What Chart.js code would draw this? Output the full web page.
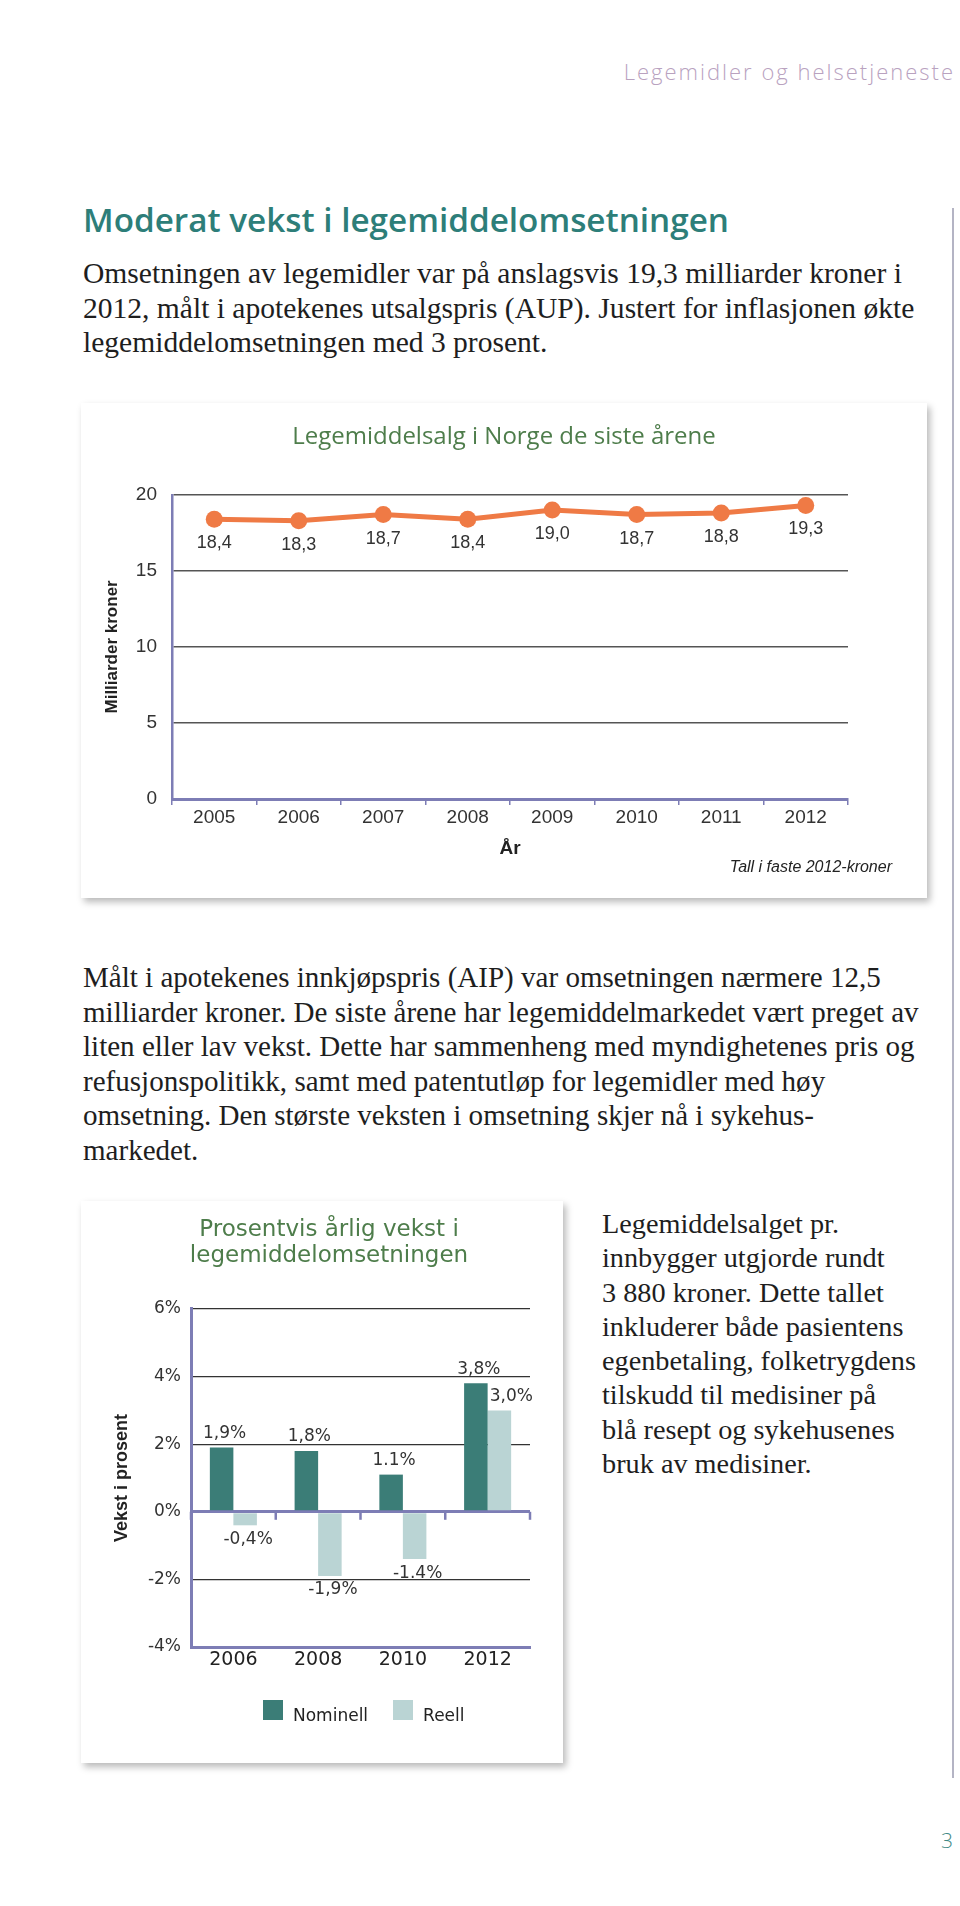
<!DOCTYPE html>
<html>
<head>
<meta charset="utf-8">
<script src="https://cdn.jsdelivr.net/npm/chart.js@4.4.0/dist/chart.umd.min.js"></script>
<style>
  body { margin: 0; width: 960px; height: 1906px; background: #fff; position: relative; overflow: hidden; }
  .abs { position: absolute; }
  .header { right: 5px; top: 60px; font-family: "Open Sans"; font-weight: 300; font-size: 22px; line-height: 22px; letter-spacing: 2px; color: #b9a2bf; white-space: nowrap; }
  .title { left: 83px; top: 204px; font-family: "Open Sans"; font-weight: 600; font-size: 31px; line-height: 31px; color: #2d7e79; white-space: nowrap; }
  .body { font-family: "Liberation Serif"; font-size: 27px; line-height: 34.5px; color: #1e1e1e; white-space: nowrap; }
  .box { background: #fff; box-shadow: 3px 4px 7px rgba(0,0,0,0.28); }
  .note { right: 68px; top: 858px; font-family: "Liberation Sans"; font-style: italic; font-size: 16px; line-height: 18px; color: #222; }
  .vline { left: 952px; top: 208px; width: 2px; height: 1570px; background: #b4b4c4; }
  .pnum { left: 941px; top: 1828px; font-family: "Open Sans"; font-weight: 300; font-size: 21px; line-height: 24px; color: #3f8a86; }
  .legend { left: 263px; top: 1700px; display: flex; gap: 25px; font-family: "DejaVu Sans"; font-size: 17px; color: #222; }
  .legend .item { display: flex; align-items: flex-start; }
  .legend .sw { width: 20px; height: 20px; margin-right: 10px; }
  .legend .txt { position: relative; top: 5px; }
</style>
</head>
<body>

<div class="abs header">Legemidler og helsetjeneste</div>
<div class="abs title" id="title"><span>Moderat vekst i legemiddelomsetningen</span></div>

<div class="abs body" id="para1" style="left:83px; top:256px;">
  <span class="ref">Omsetningen av legemidler var på anslagsvis 19,3 milliarder kroner i</span><br>
  2012, målt i apotekenes utsalgspris (AUP). Justert for inflasjonen økte<br>
  legemiddelomsetningen med 3 prosent.
</div>

<div class="abs box" style="left:81px; top:403px; width:846px; height:495px;">
  <canvas id="salesChart" width="846" height="495"></canvas>
</div>
<div class="abs note">Tall i faste 2012-kroner</div>

<div class="abs body" id="para2" style="left:83px; top:960px;">
  Målt i apotekenes innkjøpspris (AIP) var omsetningen nærmere 12,5<br>
  milliarder kroner. De siste årene har legemiddelmarkedet vært preget av<br>
  <span class="ref">liten eller lav vekst. Dette har sammenheng med myndighetenes pris og</span><br>
  refusjonspolitikk, samt med patentutløp for legemidler med høy<br>
  omsetning. Den største veksten i omsetning skjer nå i sykehus-<br>
  markedet.
</div>

<div class="abs box" style="left:81px; top:1201px; width:482px; height:562px;">
  <canvas id="growthChart" width="482" height="562"></canvas>
</div>
<div class="abs legend" id="legend"></div>

<div class="abs body" id="para3" style="left:602px; top:1207px; line-height:34.3px;">
  Legemiddelsalget pr.<br>
  innbygger utgjorde rundt<br>
  3 880 kroner. Dette tallet<br>
  inkluderer både pasientens<br>
  <span class="ref">egenbetaling, folketrygdens</span><br>
  tilskudd til medisiner på<br>
  blå resept og sykehusenes<br>
  bruk av medisiner.
</div>

<div class="abs vline"></div>
<div class="abs pnum">3</div>

<script>
// chart 1: sales per year
var years = ['2005', '2006', '2007', '2008', '2009', '2010', '2011', '2012'];
var sales = [18.4, 18.3, 18.7, 18.4, 19.0, 18.7, 18.8, 19.3];
var salesLabels = ['18,4', '18,3', '18,7', '18,4', '19,0', '18,7', '18,8', '19,3'];
var salesTicks = [0, 5, 10, 15, 20];

// chart 2: yearly growth
var growthYears = ['2006', '2008', '2010', '2012'];
var nominal = [1.9, 1.8, 1.1, 3.8];
var real = [-0.4, -1.9, -1.4, 3.0];
var nominalLabels = ['1,9%', '1,8%', '1.1%', '3,8%'];
var realLabels = ['-0,4%', '-1,9%', '-1.4%', '3,0%'];
var growthTicks = [-4, -2, 0, 2, 4, 6];

var PURPLE = '#7d7db5';

function fitWidth(el, target) {
  var ref = el.querySelector('.ref') || el.querySelector('span');
  var w = ref.getBoundingClientRect().width;
  var fs = parseFloat(getComputedStyle(el).fontSize);
  el.style.fontSize = (fs * target / w).toFixed(2) + 'px';
}
fitWidth(document.getElementById('title'), 646);
fitWidth(document.getElementById('para1'), 819);
fitWidth(document.getElementById('para2'), 832);
fitWidth(document.getElementById('para3'), 314);

var pointLabels = {
  id: 'pointLabels',
  afterDatasetsDraw: function(chart) {
    var ctx = chart.ctx;
    var meta = chart.getDatasetMeta(0);
    ctx.save();
    ctx.font = '18px "Liberation Sans"';
    ctx.fillStyle = '#333';
    ctx.textAlign = 'center';
    ctx.textBaseline = 'middle';
    meta.data.forEach(function(pt, i) {
      ctx.fillText(salesLabels[i], pt.x, pt.y + 24);
    });
    ctx.restore();
  }
};

new Chart(document.getElementById('salesChart'), {
  type: 'line',
  data: {
    labels: years,
    datasets: [{
      label: 'Milliarder kroner',
      data: sales,
      borderColor: '#ef7a45',
      backgroundColor: '#ef7a45',
      borderWidth: 5,
      pointRadius: 8.5,
      pointBackgroundColor: '#ef7a45',
      pointBorderWidth: 0,
      tension: 0,
      clip: false
    }]
  },
  options: {
    responsive: false,
    animation: false,
    layout: { padding: { left: 0, right: 0, top: 0, bottom: 19 } },
    plugins: {
      legend: { display: false },
      tooltip: { enabled: false },
      title: {
        display: true,
        text: 'Legemiddelsalg i Norge de siste årene',
        color: '#4e7d4b',
        font: { family: 'Open Sans', size: 24, weight: 'normal' },
        padding: { top: 20, bottom: 43 }
      }
    },
    scales: {
      x: {
        offset: true,
        grid: { offset: true, drawOnChartArea: false, tickLength: 6, color: PURPLE, lineWidth: 1.5 },
        border: { color: PURPLE, width: 3 },
        ticks: { color: '#333', padding: 1, font: { family: 'Liberation Sans', size: 19 } },
        title: {
          display: true, text: 'År', color: '#222',
          font: { family: 'Liberation Sans', size: 19, weight: 'bold' },
          padding: { top: 0, bottom: 19 }
        },
        afterFit: function(s) { s.height = 80; }
      },
      y: {
        min: 0, max: 20,
        afterBuildTicks: function(s) { s.ticks = salesTicks.map(function(v) { return { value: v }; }); },
        grid: { color: '#555', lineWidth: 1.5, drawTicks: false },
        border: { color: PURPLE, width: 2.5 },
        ticks: { color: '#333', padding: 15, font: { family: 'Liberation Sans', size: 19 } },
        title: {
          display: true, text: 'Milliarder kroner', color: '#222',
          font: { family: 'Liberation Sans', size: 17, weight: 'bold' },
          padding: { top: 21, bottom: 0 }
        },
        afterFit: function(s) { s.width = 91; }
      },
      pad: {
        type: 'linear', position: 'right', display: true,
        grid: { display: false }, border: { display: false }, ticks: { display: false },
        afterFit: function(s) { s.width = 79; }
      }
    }
  },
  plugins: [pointLabels]
});

var barLabels = {
  id: 'barLabels',
  afterDatasetsDraw: function(chart) {
    var ctx = chart.ctx;
    ctx.save();
    ctx.font = '17px "DejaVu Sans"';
    ctx.fillStyle = '#333';
    ctx.textAlign = 'center';
    ctx.textBaseline = 'middle';
    [nominalLabels, realLabels].forEach(function(texts, d) {
      var ds = chart.data.datasets[d];
      chart.getDatasetMeta(d).data.forEach(function(bar, i) {
        var up = ds.data[i] >= 0;
        // positive real label sits beside the taller nominal label
        var dx = (d === 1 && up) ? 12 : 3;
        ctx.fillText(texts[i], bar.x + dx, bar.y + (up ? -14 : 14));
      });
    });
    ctx.restore();
  }
};

var zeroTicks = {
  id: 'zeroTicks',
  afterDraw: function(chart) {
    var x = chart.scales.x, y = chart.scales.y;
    var y0 = y.getPixelForValue(0);
    var ctx = chart.ctx;
    ctx.save();
    ctx.strokeStyle = PURPLE;
    ctx.lineWidth = 2.5;
    for (var i = 0; i <= growthYears.length; i++) {
      var px = x.getPixelForValue(i - 0.5);
      ctx.beginPath();
      ctx.moveTo(px, y0);
      ctx.lineTo(px, y0 + 8);
      ctx.stroke();
    }
    ctx.restore();
  }
};

var growth = new Chart(document.getElementById('growthChart'), {
  type: 'bar',
  data: {
    labels: growthYears,
    datasets: [
      { label: 'Nominell', data: nominal, backgroundColor: '#3b7d77' },
      { label: 'Reell', data: real, backgroundColor: '#bad4d4' }
    ]
  },
  options: {
    responsive: false,
    animation: false,
    layout: { padding: { left: 14, right: 0, top: 0, bottom: 76 } },
    datasets: { bar: { barPercentage: 1, categoryPercentage: 0.555 } },
    plugins: {
      legend: { display: false },
      tooltip: { enabled: false },
      title: {
        display: true,
        text: ['Prosentvis årlig vekst i', 'legemiddelomsetningen'],
        color: '#4e7d4b',
        font: { family: 'DejaVu Sans', size: 23, weight: 'normal', lineHeight: 1.13 },
        padding: { top: 16, bottom: 40 }
      }
    },
    scales: {
      x: {
        grid: { display: false, drawTicks: false },
        border: { color: PURPLE, width: 3 },
        ticks: { color: '#222', padding: 2, font: { family: 'DejaVu Sans', size: 19 } },
        afterFit: function(s) { s.height = 40; }
      },
      y: {
        min: -4, max: 6,
        afterBuildTicks: function(s) { s.ticks = growthTicks.map(function(v) { return { value: v }; }); },
        grid: {
          drawTicks: false,
          color: function(c) { return c.tick.value === 0 || c.tick.value === -4 ? PURPLE : '#333'; },
          lineWidth: function(c) { return c.tick.value === 0 || c.tick.value === -4 ? 3 : 1.2; }
        },
        border: { color: PURPLE, width: 3 },
        ticks: {
          color: '#333', padding: 10, font: { family: 'DejaVu Sans', size: 17 },
          callback: function(v) { return v + '%'; }
        },
        title: {
          display: true, text: 'Vekst i prosent', color: '#222',
          font: { family: 'Liberation Sans', size: 18, weight: 'bold' },
          padding: { top: 16, bottom: 0 }
        },
        afterFit: function(s) { s.width = 96; }
      },
      pad: {
        type: 'linear', position: 'right', display: true,
        grid: { display: false }, border: { display: false }, ticks: { display: false },
        afterFit: function(s) { s.width = 33; }
      }
    }
  },
  plugins: [barLabels, zeroTicks]
});

// html legend from the chart's datasets
var legend = document.getElementById('legend');
growth.data.datasets.forEach(function(ds) {
  var item = document.createElement('div');
  item.className = 'item';
  item.innerHTML = '<div class="sw" style="background:' + ds.backgroundColor + '"></div><span class="txt">' + ds.label + '</span>';
  legend.appendChild(item);
});
</script>
</body>
</html>
